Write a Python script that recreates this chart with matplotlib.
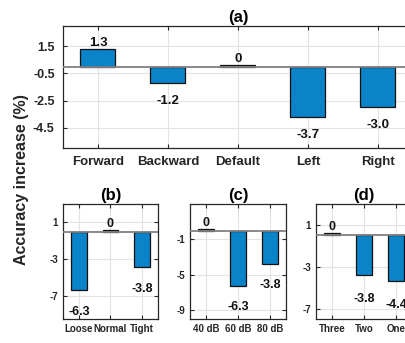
import matplotlib.pyplot as plt
import numpy as np

plt.rcParams['font.family'] = ['Liberation Sans', 'DejaVu Sans']
plt.rcParams['font.weight'] = 'bold'

# panel (a)
a_cats = ['Forward', 'Backward', 'Default', 'Left', 'Right']
a_vals = [1.3, -1.2, 0.12, -3.7, -3.0]
a_text = ['1.3', '-1.2', '0', '-3.7', '-3.0']
a_ticks = [1.5, -0.5, -2.5, -4.5]

# panel (b)
b_cats = ['Loose', 'Normal', 'Tight']
b_vals = [-6.3, 0.2, -3.8]
b_text = ['-6.3', '0', '-3.8']
b_ticks = [1, -3, -7]

# panel (c)
c_cats = ['40 dB', '60 dB', '80 dB']
c_vals = [0.18, -6.3, -3.8]
c_text = ['0', '-6.3', '-3.8']
c_ticks = [-1, -5, -9]

# panel (d)
d_cats = ['Three', 'Two', 'One']
d_vals = [0.2, -3.8, -4.4]
d_text = ['0', '-3.8', '-4.4']
d_ticks = [1, -3, -7]

BAR = '#0a83c9'
W, H = 406, 343


def panel(rect, cats, vals, texts, yticks, ylim, title, tfs, lfs, vfs, neg_off):
    l, t, r, b = rect
    ax = fig.add_axes([l / W, (H - b) / H, (r - l) / W, (b - t) / H])
    x = np.arange(1, len(cats) + 1)
    ax.bar(x, vals, width=0.5, color=BAR, edgecolor='#111111', linewidth=0.9, zorder=3)
    ax.axhline(0, color='#808080', lw=1.3, zorder=4)
    ax.set_xlim(0.5, len(cats) + 0.5)
    ax.set_ylim(*ylim)
    ax.set_xticks(x)
    ax.set_xticklabels(cats, fontsize=tfs, fontweight='bold', color='#262626')
    ax.set_yticks(yticks)
    ax.set_yticklabels([f'{v:g}' for v in yticks], fontsize=lfs, fontweight='bold', color='#262626')
    ax.grid(True, color='#e3e3e3', lw=0.8, zorder=0)
    ax.tick_params(direction='in', length=3, width=0.8, top=True, right=True, color='#262626')
    for s in ax.spines.values():
        s.set_color('#262626')
        s.set_linewidth(0.9)
    for xi, v, s in zip(x, vals, texts):
        off = 6 if v > 0 else -neg_off
        ax.annotate(s, (xi, v), xytext=(0, off), textcoords='offset pixels',
                    ha='center', va='center', fontsize=vfs, fontweight='bold',
                    color='#111111', zorder=5)
    ax.set_title(title, fontsize=12, fontweight='bold', pad=3)
    return ax


fig = plt.figure(figsize=(W / 100, H / 100), dpi=100)

ax = panel((63, 26, 413, 148), a_cats, a_vals, a_text, a_ticks, (-6, 3), '(a)', 9.5, 9, 9.5, 18)
ax.tick_params(axis='x', pad=6)
ax.tick_params(axis='y', pad=6)

bx = panel((63, 204, 158, 319), b_cats, b_vals, b_text, b_ticks, (-9.5, 3), '(b)', 7, 7, 9, 22)
cx = panel((190, 204, 286, 319), c_cats, c_vals, c_text, c_ticks, (-10, 3), '(c)', 7, 7, 9, 21)
dx = panel((316, 204, 412, 319), d_cats, d_vals, d_text, d_ticks, (-8, 3), '(d)', 7, 7, 9, 24)

fig.text(22 / W, (H - 180) / H, 'Accuracy increase (%)', rotation=90, ha='center', va='center',
         fontsize=11.5, fontweight='bold', color='#262626')

fig.savefig('out.png', dpi=100)
